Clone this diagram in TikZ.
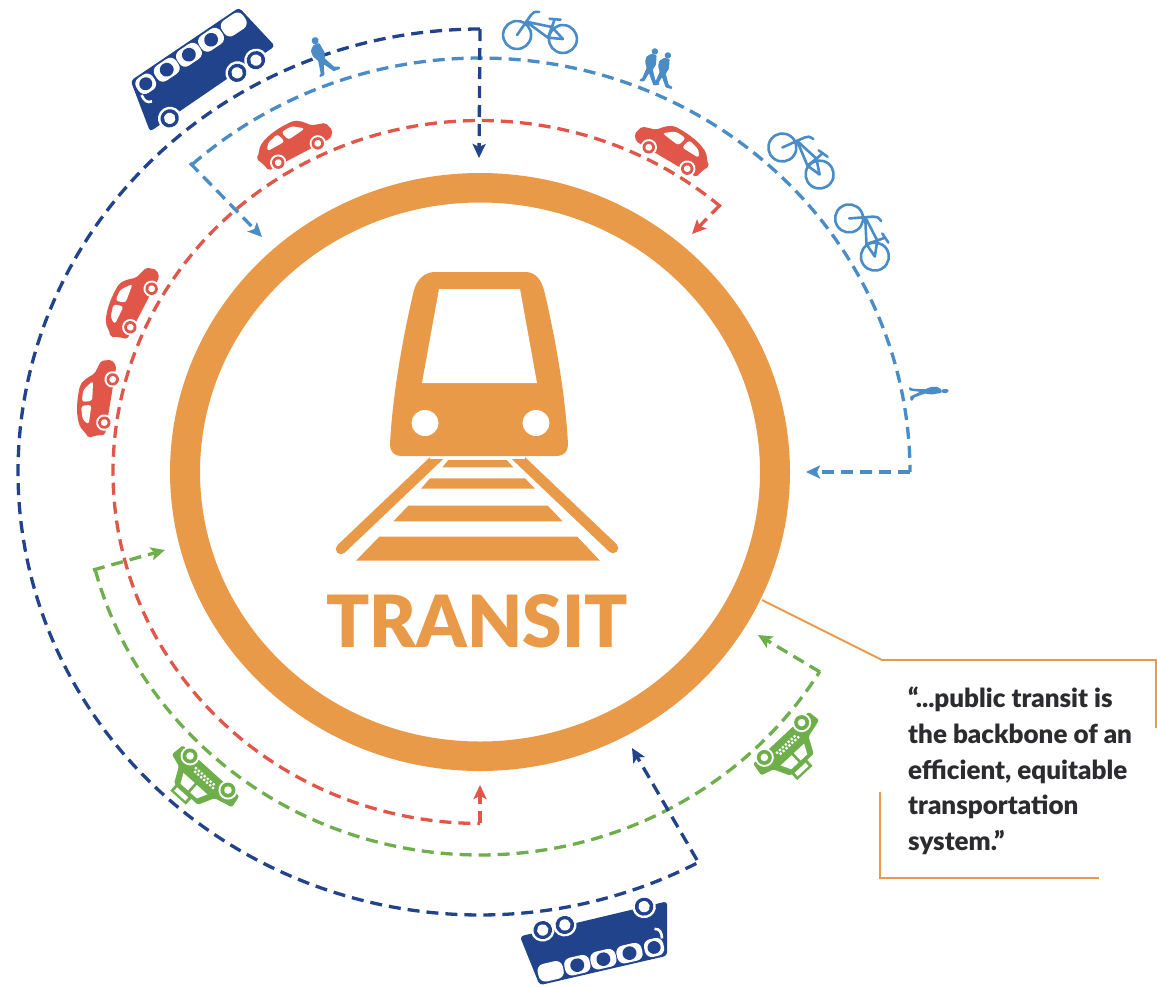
\documentclass[tikz,border=0pt]{standalone}
\usepackage{fontspec}
\setmainfont{Lato}
\newfontfamily\latoblk{Lato Black}
\usetikzlibrary{arrows.meta}
\definecolor{cOrange}{HTML}{E99A48}
\definecolor{cNavy}{HTML}{21438B}
\definecolor{cSky}{HTML}{4A8CC6}
\definecolor{cRed}{HTML}{E0574A}
\definecolor{cGreen}{HTML}{6FAF4B}
\definecolor{cInk}{HTML}{2B2B30}
\tikzset{
  route/.style={line width=3.3pt,dash pattern=on 12pt off 7pt},
  tip/.style={-{Stealth[length=14pt,width=13pt,inset=3pt]}},
  callout/.style={draw=cOrange,line width=1.9pt},
  busicon/.pic={
    \fill[cNavy,rounded corners=3.5pt] (-63,-26) -- (64,-26) -- (72,26) -- (-75,27) -- cycle;
    \fill[white,rounded corners=7pt] (-62,-24) rectangle (-43,-6);
    \fill[cNavy] (-52.5,-15) circle (6.4);
    \foreach \wx in {-28,-2,24} {
      \fill[white,rounded corners=7pt] (\wx-12.5,-24) rectangle (\wx+12.5,-6);
      \fill[cNavy] (\wx,-15) circle (6.8);
    }
    \fill[white,rounded corners=7pt] (38,-24) rectangle (63,-6);
    \draw[white,line width=2.6pt] (-62,-8) .. controls (-63,-2) and (-62,2) .. (-57,3);
    \foreach \wx in {-52,27,49} {
      \fill[white] (\wx,27) circle (11.5);
      \fill[cNavy] (\wx,27) circle (9);
      \fill[white] (\wx,27) circle (5.6);
    }
  },
  sedanicon/.pic={
    \fill[cRed,rounded corners=2pt] (-34,3) -- (-36,-5) -- (-40,-13) -- (-35,-17)
      .. controls (-30,-27) and (-12,-31) .. (6,-31)
      .. controls (14,-31) and (20,-24) .. (24,-19) -- (38,-15) -- (41,-5) -- (36,1) -- cycle;
    \fill[white,rounded corners=3pt] (-27,-15) -- (-23,-22) -- (-10,-26) -- (-7,-16) -- cycle;
    \fill[white,rounded corners=3pt] (-3,-16) -- (-6,-26) -- (6,-27) -- (17,-19) -- cycle;
    \foreach \wx in {-22,22} {
      \fill[white] (\wx,0) circle (8.2);
      \fill[cRed] (\wx,0) circle (6.2);
      \fill[white] (\wx,0) circle (3.4);
    }
  },
  taxiicon/.pic={
    \fill[cGreen,rounded corners=1.5pt] (-38,3) -- (-40,-10) -- (-21,-15) -- (-13,-31) -- (19,-31)
      -- (27,-15) -- (40,-11) -- (38,3) -- cycle;
    \fill[white] (-13,-17) -- (-8,-27) -- (1,-27) -- (1,-17) -- cycle;
    \fill[white] (4,-17) -- (4,-27) -- (14,-27) -- (19,-17) -- cycle;
    \fill[cGreen] (-4,-39) rectangle (17,-29);
    \fill[white] (-1,-36.5) rectangle (14,-32);
    \foreach \wx in {-13,-9,-5,-1,3,7,11} {
      \fill[white] (\wx-1.1,-9.5) rectangle (\wx+1.1,-7.3);
      \fill[white] (\wx+.9,-6.3) rectangle (\wx+3.1,-4.1);
    }
    \foreach \wx in {-25.5,25.5} {
      \fill[white] (\wx,0) circle (9.5);
      \fill[cGreen] (\wx,0) circle (7.5);
      \fill[white] (\wx,0) circle (3.8);
    }
  },
  cycleicon/.pic={
    \begin{scope}[draw=cSky,line width=2.6pt,line cap=round,line join=round]
      \draw (-23,0) circle (14);
      \draw (23,0) circle (14);
      \draw (-23,0) -- (-11,-21) .. controls (-10,-24) and (-7,-25) .. (-3,-25);
      \draw (-15,-14) -- (11,-11) -- (8,0) -- (-15,-14);
      \draw (8,0) -- (23,0) -- (11,-11);
      \draw (11,-11) -- (13,-19);
      \draw (8,-19) -- (19,-19);
    \end{scope}
  },
  walkericon/.pic={
    \fill[cSky] (1,-17) circle (3.6);
    \fill[cSky,rounded corners=.8pt] (-2,-13.5) -- (4,-13.5) -- (6,-3) -- (4,3) -- (10,14) -- (15,15.5)
      -- (15,18) -- (8,18) -- (1,8) -- (-2,18.5) -- (-7,19) -- (-7,17) -- (-5,16) -- (-3,3)
      -- (-6.5,-3) -- (-6.5,-9) -- cycle;
  }
}
\begin{document}
\begin{tikzpicture}[x=1pt,y=-1pt]
\useasboundingbox (0,0) rectangle (1157,986);
\fill[white] (0,0) rectangle (1157,986);

% ring
\fill[cOrange,even odd rule] (480,472) ellipse [x radius=310,y radius=299]
     (480,472) ellipse [x radius=280,y radius=269.5];

% rails
\draw[cOrange,line width=10.5pt,line cap=round] (443,452) -- (341,549);
\draw[cOrange,line width=10.5pt,line cap=round] (512,452) -- (613,548);
\fill[white] (430,456.3) rectangle (525,459);
% train
\fill[cOrange] (435,272) -- (525,272)
  .. controls (536,272) and (541,280) .. (544,290)
  .. controls (556,340) and (566,400) .. (568,445)
  .. controls (568,452) and (563,456) .. (557,456) -- (401,456)
  .. controls (395,456) and (390,452) .. (390,445)
  .. controls (392,400) and (402,340) .. (414,290)
  .. controls (417,280) and (424,272) .. (435,272) -- cycle;
\fill[white] (439,289) -- (520,289) -- (537,383) -- (422,383) -- cycle;
\fill[white] (425,423) ellipse [x radius=13.5,y radius=13];
\fill[white] (536,423) ellipse [x radius=13.5,y radius=13];
% ties
\fill[cOrange] (448.3,460) -- (506.7,460) -- (513.3,467.3) -- (442.3,467.3) -- cycle;
\fill[cOrange] (430,478.3) -- (525,478.3) -- (535,488.7) -- (421,488.7) -- cycle;
\fill[cOrange] (408.3,505.7) -- (547.7,505.7) -- (562.7,521.3) -- (393.3,521.3) -- cycle;
\fill[cOrange] (379.3,536.7) -- (577.3,536.7) -- (600,560.7) -- (356,560.7) -- cycle;

\node[anchor=center,inner sep=0pt,text=cOrange,font=\latoblk\fontsize{72}{72}\selectfont,xscale=.99] (transitlabel) at (477,621) {TRANSIT};

% route end points
\coordinate (skyStart) at (190,163);
\coordinate (skyTipA) at (262,237);
\coordinate (skyEnd) at (910,472);
\coordinate (skyTipB) at (806,472);
\coordinate (navyStart) at (480,29);
\coordinate (navyTipA) at (479,158);
\coordinate (navyEnd) at (697,860);
\coordinate (navyTipB) at (632,748);
\coordinate (redStart) at (720,205);
\coordinate (redTipA) at (692,234);
\coordinate (redEnd) at (480,823);
\coordinate (redTipB) at (480,785);
\coordinate (greenStart) at (93,570);
\coordinate (greenTipA) at (165,550);
\coordinate (greenEnd) at (820,672);
\coordinate (greenTipB) at (758,635);

% routes
\draw[route,cSky] plot[domain=228:360,samples=140] ({480+430*cos(\x)},{472+414*sin(\x)});
\draw[route,tip,cSky] (skyStart) -- (skyTipA);
\draw[route,tip,cSky] (skyEnd) -- (skyTipB);

\draw[route,cRed] plot[domain=311:90,samples=200] ({480+367*cos(\x)},{472+351.5*sin(\x)});
\draw[route,tip,cRed] (redStart) -- (redTipA);
\draw[route,tip,cRed] (redEnd) -- (redTipB);

\draw[route,cGreen] plot[domain=165.2:31.4,samples=140] ({480+398*cos(\x)},{472+383*sin(\x)});
\draw[route,tip,cGreen] (greenStart) -- (greenTipA);
\draw[route,tip,cGreen] (greenEnd) -- (greenTipB);

\draw[route,cNavy] plot[domain=270:62,samples=220] ({480+462*cos(\x)},{472+443*sin(\x)});
\draw[route,tip,cNavy] (navyStart) -- (navyTipA);
\draw[route,tip,cNavy] (navyEnd) -- (navyTipB);

% vehicles
\pic[rotate=34,xscale=1.03] at (199,66) {busicon};
\pic[rotate=193,xscale=1.03] at (598,945) {busicon};
\pic[rotate=26] at (298,153) {sedanicon};
\pic[rotate=-29,xscale=-1] at (668,158) {sedanicon};
\pic[rotate=61] at (141,308) {sedanicon};
\pic[rotate=79] at (108.5,401) {sedanicon};
\pic[rotate=138] at (209,773) {taxiicon};
\pic[rotate=223] at (783,740) {taxiicon};
\pic[rotate=-5] at (540,37) {cycleicon};
\pic[rotate=-36] at (801,161) {cycleicon};
\pic[rotate=-56] at (862,237.5) {cycleicon};
\pic[rotate=20] at (320,57) {walkericon};
\pic[rotate=-15,scale=.9] at (650,66) {walkericon};
\pic[rotate=-15,scale=.9] at (663,70) {walkericon};
\pic[rotate=-88,xscale=.6] at (928,391) {walkericon};

% callout
\coordinate (calloutA) at (762,600);
\coordinate (calloutB) at (882,660);
\coordinate (calloutC) at (1156,660);
\coordinate (calloutD) at (1156,728);
\coordinate (calloutE) at (880,792);
\coordinate (calloutF) at (880,878);
\coordinate (calloutG) at (1099,878);
\draw[callout] (calloutA) -- (calloutB) -- (calloutC) -- (calloutD);
\draw[callout] (calloutE) -- (calloutF) -- (calloutG);
\node[anchor=north west,inner sep=0pt,align=left,text=cInk,font=\latoblk\fontsize{26}{35.7}\selectfont] (quote) at (908,687)
 {“...public transit is\\the backbone of an\\efficient, equitable\\transportation\\system.”};
\end{tikzpicture}
\end{document}
